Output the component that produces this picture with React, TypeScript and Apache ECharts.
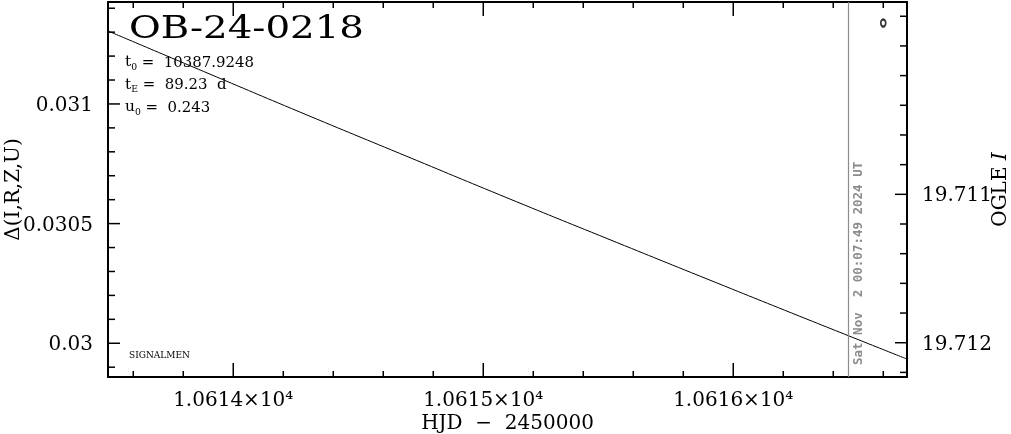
import React, { useEffect, useRef } from "react";
import * as echarts from "echarts";

// ---- data ----
const xMin = 10613.499;
const xMax = 10616.695;
const xMajor = [10614, 10615, 10616];
const xLabels = ["1.0614×10⁴", "1.0615×10⁴", "1.0616×10⁴"];
const xMinor = [
  10613.6, 10613.8, 10614.2, 10614.4, 10614.6, 10614.8, 10615.2, 10615.4,
  10615.6, 10615.8, 10616.2, 10616.4, 10616.6,
];

const yMin = 0.029859;
const yMax = 0.031426;
const yMajor = [0.03, 0.0305, 0.031];
const yLabels = ["0.03", "0.0305", "0.031"];
const yMinor = [
  0.0299, 0.0301, 0.0302, 0.0303, 0.0304, 0.0306, 0.0307, 0.0308, 0.0309,
  0.0311, 0.0312, 0.0313, 0.0314,
];

const rMin = 19.709704;
const rMax = 19.712231;
const rMajor = [19.711, 19.712];
const rLabels = ["19.711", "19.712"];
const rMinor = [
  19.7098, 19.71, 19.7102, 19.7104, 19.7106, 19.7108, 19.7112, 19.7114,
  19.7116, 19.7118, 19.7122,
];

const modelHJD = [10613.499, 10613.899, 10614.299, 10614.699, 10615.099, 10615.499, 10615.899, 10616.299, 10616.695];
const modelDelta = [0.031305, 0.031128, 0.030952, 0.030779, 0.030606, 0.030436, 0.030267, 0.030099, 0.029934];

const ogleHJD = [10616.6];
const ogleMag = [19.709846];

const nowHJD = 10616.46;
const nowLabel = "Sat Nov  2 00:07:49 2024 UT";

const eventName = "OB-24-0218";
const paramNames = ["t", "t", "u"];
const paramSubs = ["0", "E", "0"];
const paramValues = ["=  10387.9248", "=  89.23  d", "=  0.243"];

const FONT = "DejaVu Serif";

export default function App() {
  const ref = useRef<HTMLDivElement>(null);
  useEffect(() => {
    if (!ref.current) return;
    const chart = echarts.init(ref.current, null, { renderer: "svg" });
    const labelStyle = { color: "#000", fontFamily: FONT, fontSize: 20, lineHeight: 20 };
    const fmt = (vals: number[], labels: string[]) => (v: number) => {
      const i = vals.findIndex((t) => Math.abs(t - v) < 1e-7);
      return i >= 0 ? labels[i] : "";
    };
    const axisLine = { show: true, onZero: false, lineStyle: { color: "#000", width: 2 } };
    const baseAxis = (extra: any) => ({
      type: "value",
      axisLine,
      splitLine: { show: false },
      axisTick: { show: false },
      axisLabel: { show: false },
      nameMoveOverlap: false,
      ...extra,
    });

    const tickStyle = { stroke: "#000", lineWidth: 1.5 };
    // ticks along x (bottom and top), pointing into the plot
    const xTickSeries = (vals: number[], len: number) => ({
      type: "custom",
      xAxisIndex: 0,
      yAxisIndex: 0,
      silent: true,
      clip: false,
      data: vals.map((v) => [v, yMin]),
      renderItem: (params: any, api: any) => {
        const p = api.coord([api.value(0), api.value(1)]);
        const cs = params.coordSys;
        const b = cs.y + cs.height;
        return {
          type: "group",
          children: [
            { type: "line", shape: { x1: p[0], y1: b, x2: p[0], y2: b - len }, style: tickStyle },
            { type: "line", shape: { x1: p[0], y1: cs.y, x2: p[0], y2: cs.y + len }, style: tickStyle },
          ],
        };
      },
    });
    // ticks along y (left or right), pointing into the plot
    const yTickSeries = (yIdx: number, vals: number[], len: number, right: boolean) => ({
      type: "custom",
      xAxisIndex: 0,
      yAxisIndex: yIdx,
      silent: true,
      clip: false,
      data: vals.map((v) => [xMin, v]),
      renderItem: (params: any, api: any) => {
        const p = api.coord([api.value(0), api.value(1)]);
        const cs = params.coordSys;
        const edge = right ? cs.x + cs.width : cs.x;
        const inner = right ? edge - len : edge + len;
        return { type: "line", shape: { x1: edge, y1: p[1], x2: inner, y2: p[1] }, style: tickStyle };
      },
    });

    const graphics: any[] = [
      {
        type: "text",
        left: 129,
        top: 11,
        scaleX: 1.25,
        style: { text: eventName, font: `31px '${FONT}'`, fill: "#000" },
      },
    ];
    paramNames.forEach((n, i) => {
      graphics.push({
        type: "text",
        left: 125,
        top: 54 + i * 22.5,
        scaleX: 1.03,
        style: {
          text: `{a|${n}}{s|${paramSubs[i]}}{b| ${paramValues[i]}}`,
          rich: {
            a: { fontFamily: FONT, fontSize: 15, fill: "#000", lineHeight: 20, verticalAlign: "middle" },
            s: { fontFamily: FONT, fontSize: 9, fill: "#000", lineHeight: 20, verticalAlign: "bottom" },
            b: { fontFamily: FONT, fontSize: 14.5, fill: "#000", lineHeight: 20, verticalAlign: "middle" },
          },
        },
      });
    });
    graphics.push({
      type: "text",
      left: 129,
      top: 350,
      style: { text: "SIGNALMEN", font: `9px '${FONT}'`, fill: "#000" },
    });

    chart.setOption({
      animation: false,
      grid: {
        left: 108, right: 104, top: 2, bottom: 57,
        containLabel: false,
        outerBoundsMode: "none",
        show: false,
      },
      xAxis: [
        baseAxis({
          position: "bottom",
          min: xMin,
          max: xMax,
          name: "HJD  −  2450000",
          nameLocation: "middle",
          nameGap: 35,
          nameTextStyle: { ...labelStyle },
          axisLabel: { show: true, customValues: xMajor, margin: 12, formatter: fmt(xMajor, xLabels), ...labelStyle },
        }),
        baseAxis({ position: "top", min: xMin, max: xMax }),
      ],
      yAxis: [
        baseAxis({
          position: "left",
          min: yMin,
          max: yMax,
          name: "Δ(I,R,Z,U)",
          nameLocation: "middle",
          nameGap: 86,
          nameRotate: 90,
          nameTextStyle: { ...labelStyle },
          axisLabel: { show: true, customValues: yMajor, margin: 15, formatter: fmt(yMajor, yLabels), ...labelStyle },
        }),
        baseAxis({
          position: "right",
          min: rMin,
          max: rMax,
          inverse: true,
          name: "{n|OGLE }{i|I}",
          nameLocation: "middle",
          nameGap: 82,
          nameRotate: 90,
          nameTextStyle: {
            ...labelStyle,
            rich: {
              n: { fontFamily: FONT, fontSize: 20, color: "#000" },
              i: { fontFamily: FONT, fontSize: 20, color: "#000", fontStyle: "italic" },
            },
          },
          axisLabel: { show: true, customValues: rMajor, margin: 15, formatter: fmt(rMajor, rLabels), ...labelStyle },
        }),
      ],
      series: [
        xTickSeries(xMajor, 14),
        xTickSeries(xMinor, 6),
        yTickSeries(0, yMajor, 12, false),
        yTickSeries(0, yMinor, 7, false),
        yTickSeries(1, rMajor, 12, true),
        yTickSeries(1, rMinor, 7, true),
        {
          type: "line",
          xAxisIndex: 0,
          yAxisIndex: 0,
          data: modelHJD.map((x, i) => [x, modelDelta[i]]),
          showSymbol: false,
          smooth: true,
          lineStyle: { color: "#000", width: 1 },
          silent: true,
          markLine: {
            silent: true,
            symbol: "none",
            lineStyle: { color: "#8c8c8c", width: 1.2, type: "solid" },
            label: {
              show: true,
              position: "insideStartBottom",
              formatter: nowLabel,
              color: "#8c8c8c",
              fontFamily: "DejaVu Sans Mono",
              fontWeight: "bold",
              fontSize: 12.5,
              distance: [12, 3],
            },
            data: [{ xAxis: nowHJD }],
          },
        },
        {
          type: "scatter",
          xAxisIndex: 0,
          yAxisIndex: 1,
          data: ogleHJD.map((x, i) => [x, ogleMag[i]]),
          symbol: "circle",
          symbolSize: [5, 7],
          itemStyle: { color: "#fff", borderColor: "#000", borderWidth: 2 },
        },
      ],
      graphic: graphics,
    });
    return () => chart.dispose();
  }, []);
  return <div ref={ref} style={{ position: "fixed", left: 0, top: 0, width: 1011, height: 434 }} />;
}
